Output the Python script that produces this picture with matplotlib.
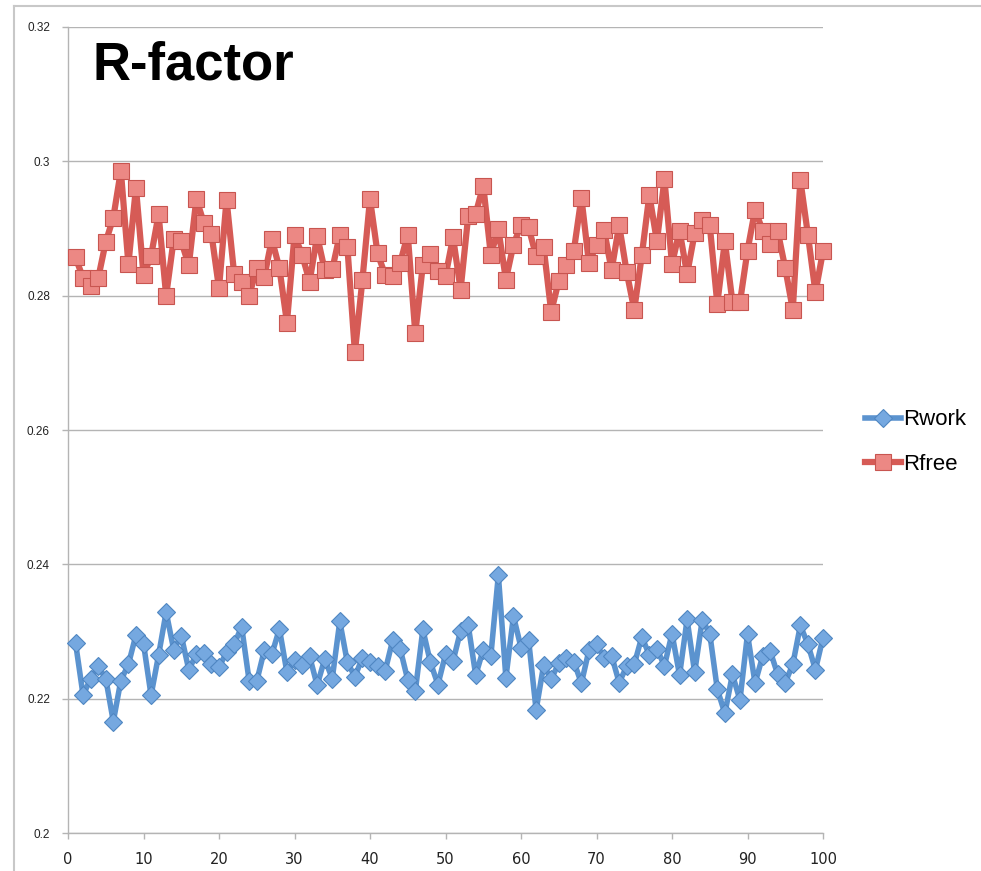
import matplotlib
matplotlib.use("Agg")
import matplotlib.pyplot as plt
from matplotlib.lines import Line2D

iterations = list(range(1, 101))

rwork = [0.2283, 0.2205, 0.2230, 0.2248, 0.2230, 0.2166, 0.2227, 0.2251, 0.2295, 0.2282,
         0.2205, 0.2265, 0.2329, 0.2273, 0.2294, 0.2243, 0.2266, 0.2268, 0.2251, 0.2247,
         0.2269, 0.2281, 0.2307, 0.2226, 0.2226, 0.2272, 0.2266, 0.2304, 0.2239, 0.2258,
         0.2250, 0.2263, 0.2220, 0.2259, 0.2230, 0.2315, 0.2254, 0.2233, 0.2261, 0.2255,
         0.2248, 0.2241, 0.2287, 0.2274, 0.2228, 0.2211, 0.2303, 0.2254, 0.2221, 0.2266,
         0.2256, 0.2301, 0.2310, 0.2235, 0.2273, 0.2263, 0.2384, 0.2231, 0.2323, 0.2276,
         0.2288, 0.2183, 0.2250, 0.2229, 0.2253, 0.2260, 0.2255, 0.2223, 0.2272, 0.2281,
         0.2261, 0.2264, 0.2224, 0.2248, 0.2251, 0.2292, 0.2265, 0.2274, 0.2249, 0.2297,
         0.2235, 0.2318, 0.2239, 0.2317, 0.2297, 0.2214, 0.2178, 0.2236, 0.2198, 0.2296,
         0.2223, 0.2263, 0.2271, 0.2236, 0.2224, 0.2251, 0.2309, 0.2281, 0.2243, 0.2291]

rfree = [0.2857, 0.2826, 0.2814, 0.2826, 0.2880, 0.2916, 0.2986, 0.2847, 0.2961, 0.2831,
         0.2859, 0.2921, 0.2800, 0.2884, 0.2881, 0.2845, 0.2944, 0.2908, 0.2892, 0.2811,
         0.2943, 0.2833, 0.2821, 0.2800, 0.2841, 0.2828, 0.2884, 0.2841, 0.2760, 0.2890,
         0.2861, 0.2821, 0.2889, 0.2838, 0.2839, 0.2891, 0.2873, 0.2716, 0.2824, 0.2944,
         0.2863, 0.2831, 0.2829, 0.2849, 0.2891, 0.2744, 0.2846, 0.2862, 0.2837, 0.2829,
         0.2887, 0.2809, 0.2918, 0.2922, 0.2964, 0.2861, 0.2899, 0.2824, 0.2876, 0.2905,
         0.2902, 0.2859, 0.2872, 0.2776, 0.2822, 0.2845, 0.2867, 0.2946, 0.2848, 0.2876,
         0.2898, 0.2838, 0.2905, 0.2835, 0.2779, 0.2860, 0.2950, 0.2881, 0.2973, 0.2847,
         0.2897, 0.2832, 0.2893, 0.2913, 0.2905, 0.2788, 0.2881, 0.2791, 0.2790, 0.2867,
         0.2928, 0.2897, 0.2877, 0.2896, 0.2841, 0.2779, 0.2972, 0.2891, 0.2805, 0.2866]

x_ticks = [0, 10, 20, 30, 40, 50, 60, 70, 80, 90, 100]
y_ticks = [0.2, 0.22, 0.24, 0.26, 0.28, 0.3, 0.32]
y_tick_labels = ["0.2", "0.22", "0.24", "0.26", "0.28", "0.3", "0.32"]

W, H = 981, 871
fig = plt.figure(figsize=(W / 100, H / 100), dpi=100)
ax = fig.add_axes([68 / W, 1 - 833 / H, (823 - 68) / W, (833 - 27) / H])

blue_line = "#5b93cf"
blue_face = "#75a8e0"
blue_edge = "#4f86c2"
red_line = "#d65b56"
red_face = "#ec8884"
red_edge = "#c85550"

ax.plot(iterations, rwork, color=blue_line, lw=4.0, marker="D", markersize=9.5,
        markerfacecolor=blue_face, markeredgecolor=blue_edge, markeredgewidth=0.8,
        label="Rwork", zorder=3, solid_joinstyle="round", clip_on=False)
ax.plot(iterations, rfree, color=red_line, lw=4.5, marker="s", markersize=11,
        markerfacecolor=red_face, markeredgecolor=red_edge, markeredgewidth=0.8,
        label="Rfree", zorder=3, solid_joinstyle="round", clip_on=False)

ax.set_xlim(0, 100)
ax.set_ylim(0.2, 0.32)
ax.set_xticks(x_ticks)
ax.set_xticklabels([str(t) for t in x_ticks], fontsize=10.5,
                   family=["Liberation Sans Narrow", "DejaVu Sans"], color="#222222")
ax.set_yticks(y_ticks)
ax.set_yticklabels(y_tick_labels, fontsize=8.5,
                   family=["Liberation Sans", "DejaVu Sans"], color="#222222")
ax.grid(axis="y", color="#b4b4b4", lw=1.0)
ax.set_axisbelow(True)
for s in ["top", "right"]:
    ax.spines[s].set_visible(False)
for s in ["left", "bottom"]:
    ax.spines[s].set_color("#b4b4b4")
    ax.spines[s].set_linewidth(1.0)
ax.tick_params(axis="both", direction="out", length=4, width=1.0, color="#b4b4b4")
ax.tick_params(axis="x", pad=10)
ax.tick_params(axis="y", pad=9)

fig.text(92 / W, 1 - 65 / H, "R-factor", fontsize=38, fontweight="bold",
         family=["Liberation Sans", "DejaVu Sans"], va="center", ha="left")

handles = [
    Line2D([], [], color=blue_line, lw=4.0, marker="D", markersize=9.5,
           markerfacecolor=blue_face, markeredgecolor=blue_edge, markeredgewidth=0.8),
    Line2D([], [], color=red_line, lw=4.5, marker="s", markersize=11,
           markerfacecolor=red_face, markeredgecolor=red_edge, markeredgewidth=0.8),
]
fig.legend(handles, ["Rwork", "Rfree"], loc="center left",
           bbox_to_anchor=(845 / W, 1 - 442 / H), frameon=False,
           prop={"family": ["Liberation Sans", "DejaVu Sans"], "size": 16},
           handlelength=1.6, handletextpad=0.1, labelspacing=1.05)

# outer chart frame (top and left edges visible)
fig.add_artist(Line2D([14 / W, 1.0], [1 - 6 / H, 1 - 6 / H], color="#c8c8c8", lw=1.5,
                      transform=fig.transFigure))
fig.add_artist(Line2D([14 / W, 14 / W], [0, 1 - 6 / H], color="#c8c8c8", lw=1.5,
                      transform=fig.transFigure))

fig.savefig("out.png", dpi=100)
